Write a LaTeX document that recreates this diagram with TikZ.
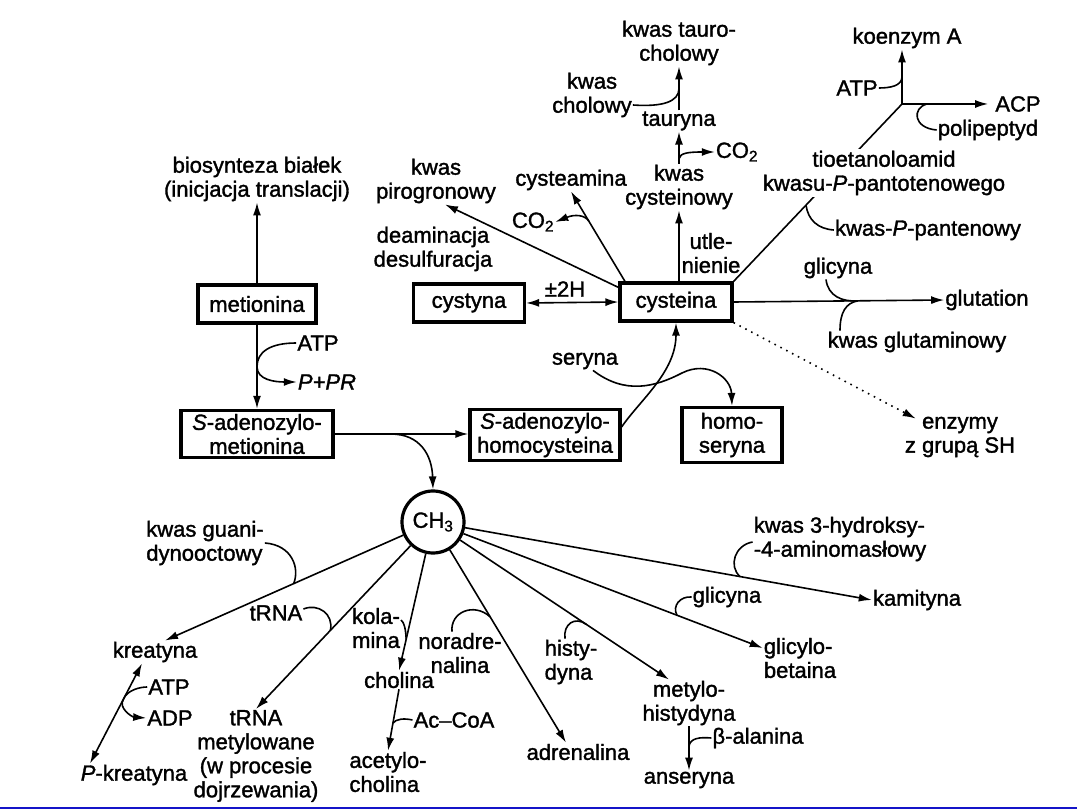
\documentclass[tikz,border=0pt]{standalone}
\usepackage{fontspec}
\setmainfont{Liberation Sans}[FakeBold=1.5]
\usetikzlibrary{arrows.meta,calc}
\definecolor{rulecol}{RGB}{20,20,200}
\begin{document}
\begin{tikzpicture}[x=1pt,y=-1pt,
  every node/.style={font=\fontsize{22}{24}\selectfont, inner sep=1pt, align=center},
  box/.style={draw, line width=3.2pt, inner xsep=6pt, inner ysep=3.5pt, minimum height=38pt},
  ln/.style={line width=1.6pt},
  ar/.style={ln, -{Latex[length=13pt,width=8pt]}},
  dar/.style={ln, {Latex[length=13pt,width=8pt]}-{Latex[length=13pt,width=8pt]}},
  dotar/.style={line width=1.6pt, dash pattern=on 1.6pt off 5pt, -{Latex[length=13pt,width=8pt]}},
]
\useasboundingbox (0,0) rectangle (1080,810);
\draw[rulecol, line width=1.5pt] (0,808) -- (1077,808);

% ---------- boxes ----------
\node[box, minimum width=118pt] (met) at (257,304) {metionina};
\node[box, minimum width=111pt] (cyn) at (469,303) {cystyna};
\node[box, minimum width=112pt] (cys) at (676,302) {cysteina};
\node[box, minimum width=152pt] (sam) at (257,434) {\textit{S}-adenozylo-\\metionina};
\node[box, minimum width=150pt] (sah) at (545,435) {\textit{S}-adenozylo-\\homocysteina};
\node[box, minimum width=100pt, minimum height=55pt] (hser) at (732,435) {homo-\\seryna};
\node[draw, circle, line width=3.2pt, minimum size=62pt, inner sep=0pt] (ch3) at (433,522) {CH\textsubscript{3}};

% ---------- upper labels ----------
\node (bios) at (257,179) {biosynteza białek\\(inicjacja translacji)};
\node (tch) at (679,43) {kwas tauro-\\cholowy};
\node (kch) at (592,95) {kwas\\cholowy};
\node (tau) at (679,121) {tauryna};
\node (kcys) at (679,187) {kwas\\cysteinowy};
\node (co2a) at (737,152) {CO\textsubscript{2}};
\node (cyst) at (571,180) {cysteamina};
\node (co2b) at (533,222) {CO\textsubscript{2}};
\node (pir) at (436,181) {kwas\\pirogronowy};
\node (deam) at (433,249) {deaminacja\\desulfuracja};
\node (utl) at (711,253) {utle-\\nienie};
\node (pm) at (565,289) {±2H};
\node (koe) at (907,38) {koenzym A};
\node (atp2) at (857,88) {ATP};
\node (acp) at (1018,104) {ACP};
\node (poli) at (988,130) {polipeptyd};
\node (kpp) at (928,230) {kwas-\textit{P}-pantenowy};
\node (glic) at (838,268) {glicyna};
\node (glut) at (987,300) {glutation};
\node (kglu) at (917,342) {kwas glutaminowy};
\node (enz) at (960,437) {enzymy\\z grupą SH};
\node (ser) at (585,361) {seryna};
\node (atp1) at (318,343) {ATP};
\node (ppr) at (327,382) {\textit{P+PR}};

% ---------- lower labels ----------
\node[align=left] (kgua) at (205,543) {kwas guani-\\dynooctowy};
\node (kreat) at (155,652) {kreatyna};
\node (atp3) at (169,687) {ATP};
\node (adp) at (170,718) {ADP};
\node (pkre) at (134,775) {\textit{P}-kreatyna};
\node (trna) at (276,613) {tRNA};
\node (trnam) at (256,756) {tRNA\\metylowane\\(w procesie\\dojrzewania)};
\node[align=left] (kola) at (376,628) {kola-\\mina};
\node (chol) at (399,680) {cholina};
\node (acoa) at (454,720) {Ac–CoA};
\node[align=left] (acet) at (388,772) {acetylo-\\cholina};
\node (nora) at (460,653) {noradre-\\nalina};
\node (adr) at (578,752) {adrenalina};
\node[align=left] (hist) at (571,662) {histy-\\dyna};
\node (mhis) at (689,703) {metylo-\\histydyna};
\node (bala) at (758,738) {β-alanina};
\node (ans) at (689,780) {anseryna};
\node (glic2) at (727,597) {glicyna};
\node[align=left] (gbet) at (800,658) {glicylo-\\betaina};
\node[align=left] (k3h) at (840,539) {kwas 3-hydroksy-\\-4-aminomasłowy};
\node (kam) at (917,600) {kamityna};

% ---------- metionina ----------
\draw[ar] (met.north) -- (bios.south);
\draw[ar] (met.south) -- (sam.north);
\coordinate (m1) at ($(met.south)!0.5!(sam.north)$);
\draw[ar] (atp1.west) .. controls (270,343) and (257,352) .. (m1)
  .. controls (257,380) and (275,382) .. (ppr.west);

% ---------- cysteina, upward ----------
\draw[dar] (cyn.east) -- (cys.west);
\draw[ar] (cys.north -| kcys) -- (kcys.south);
\draw[ar] (kcys.north) -- (tau.south);
\draw[ar] (tau.north) -- (tch.south);
\coordinate (c1) at ($(kcys.north)!0.15!(tau.south)$);
\draw[ar] (c1) .. controls (680,153) and (688,152) .. (co2a.west);
\coordinate (c2) at ($(tau.north)!0.5!(tch.south)$);
\draw[ln] ([yshift=-10pt]kch.east) .. controls (662,107) and (679,102) .. (c2);

\coordinate (s1) at ([xshift=-51pt]cys.north);
\draw[ar] (s1) -- (cyst.south);
\draw[ar] ($(s1)!0.67!(cyst.south)$) .. controls (585,215) and (575,214) .. (co2b.east);
\draw[ar] ([yshift=-6pt]cys.north west) -- ([xshift=9pt]pir.south);

% ---------- coenzyme A branch ----------
\coordinate (junc) at (902,104);
\draw[ln] (cys.north east) -- (junc);
\node[fill=white, inner sep=2pt] (tio) at (884,173) {tioetanoloamid\\kwasu-\textit{P}-pantotenowego};
\draw[ln] ($(cys.north east)!0.43!(junc)$) .. controls (808,220) and (818,229) .. (kpp.west);
\coordinate (kt) at (junc |- koe.south);
\draw[ar] (junc) -- (kt);
\draw[ln] (atp2.east) .. controls (890,88) and (902,86) .. ($(junc)!0.5!(kt)$);
\draw[ar, shorten >=6pt] (junc) -- (acp.west);
\draw[ln] ($(junc)!0.27!(acp.west)$) .. controls (912,108) and (913,128) .. (poli.west);

% ---------- glutation ----------
\draw[ar] (cys.east) -- (glut.west);
\coordinate (g1) at ($(cys.east)!0.59!(glut.west)$);
\draw[ln] ([xshift=-12pt]glic.south) .. controls (828,296) and (842,302) .. (g1);
\draw[ln] ([xshift=-77pt]kglu.north) .. controls (840,312) and (846,303) .. (g1);
\draw[dotar] (cys.south east) -- ([xshift=12pt,yshift=-3pt]enz.north west);

% ---------- SAM / SAH ----------
\coordinate (sw) at (sam.east -| sah.west);
\draw[ar] (sam.east) -- (sw);
\coordinate (s2) at ($(sam.east)!0.42!(sw)$);
\draw[ar] (s2) .. controls (420,434) and (432,455) .. (ch3.north);
\draw[ar] ([yshift=8pt]sah.east) .. controls (640,400) and (676,372) .. (cys.south);
\draw[ar] ([xshift=8pt]ser.south) .. controls (625,395) and (655,387) .. (682,373)
  .. controls (708,360) and (731,378) .. (hser.north);

% ---------- CH3 fan ----------
\coordinate (tk) at ([xshift=10pt]kreat.north);
\draw[ar] (ch3) -- (tk);
\draw[ln] (kgua.east) .. controls (292,545) and (300,568) .. ($(ch3)!0.52!(tk)$);

\draw[ar] (ch3) -- (trnam.north);
\draw[ln] ([yshift=4pt]trna.east) .. controls (318,603) and (334,614) .. ($(ch3)!0.58!(trnam.north)$);

\draw[ar] (ch3) -- (chol.north);
\draw[ln] ([yshift=8pt]kola.east) .. controls (404,622) and (406,630) .. ($(ch3)!0.79!(chol.north)$);
\draw[ar] (chol.south) -- (acet.north);
\draw[ln] (acoa.west) .. controls (404,718) and (396,719) .. ($(chol.south)!0.55!(acet.north)$);

\coordinate (ta) at ([xshift=-12pt]adr.north);
\draw[ar] (ch3) -- (ta);
\draw[ln] ([xshift=-8pt]nora.north) .. controls (450,612) and (474,602) .. ($(ch3)!0.43!(ta)$);

\coordinate (tm) at ([xshift=-20pt]mhis.north);
\draw[ar] (ch3) -- (tm);
\draw[ln] ([xshift=-6pt]hist.north) .. controls (563,624) and (575,616) .. ($(ch3)!0.65!(tm)$);
\draw[ar] (mhis.south) -- (ans.north);
\draw[ln] (bala.west) .. controls (700,737) and (690,738) .. ($(mhis.south)!0.45!(ans.north)$);

\coordinate (tg) at ([yshift=10pt]gbet.west);
\draw[ar] (ch3) -- (tg);
\draw[ln] (glic2.west) .. controls (680,596) and (672,606) .. ($(ch3)!0.74!(tg)$);

\draw[ar] (ch3) -- (kam.west);
\draw[ln] ([yshift=-3pt]k3h.west) .. controls (735,545) and (728,566) .. ($(ch3)!0.70!(kam.west)$);

% ---------- kreatyna / P-kreatyna ----------
\coordinate (k1) at ([xshift=-13pt]kreat.south);
\coordinate (k2) at ([xshift=-44pt]pkre.north);
\draw[dar] (k1) -- (k2);
\draw[ar] (atp3.west) .. controls (140,687) and (127,690) .. ($(k1)!0.36!(k2)$)
  .. controls (118,708) and (132,717) .. (adp.west);
\end{tikzpicture}
\end{document}
